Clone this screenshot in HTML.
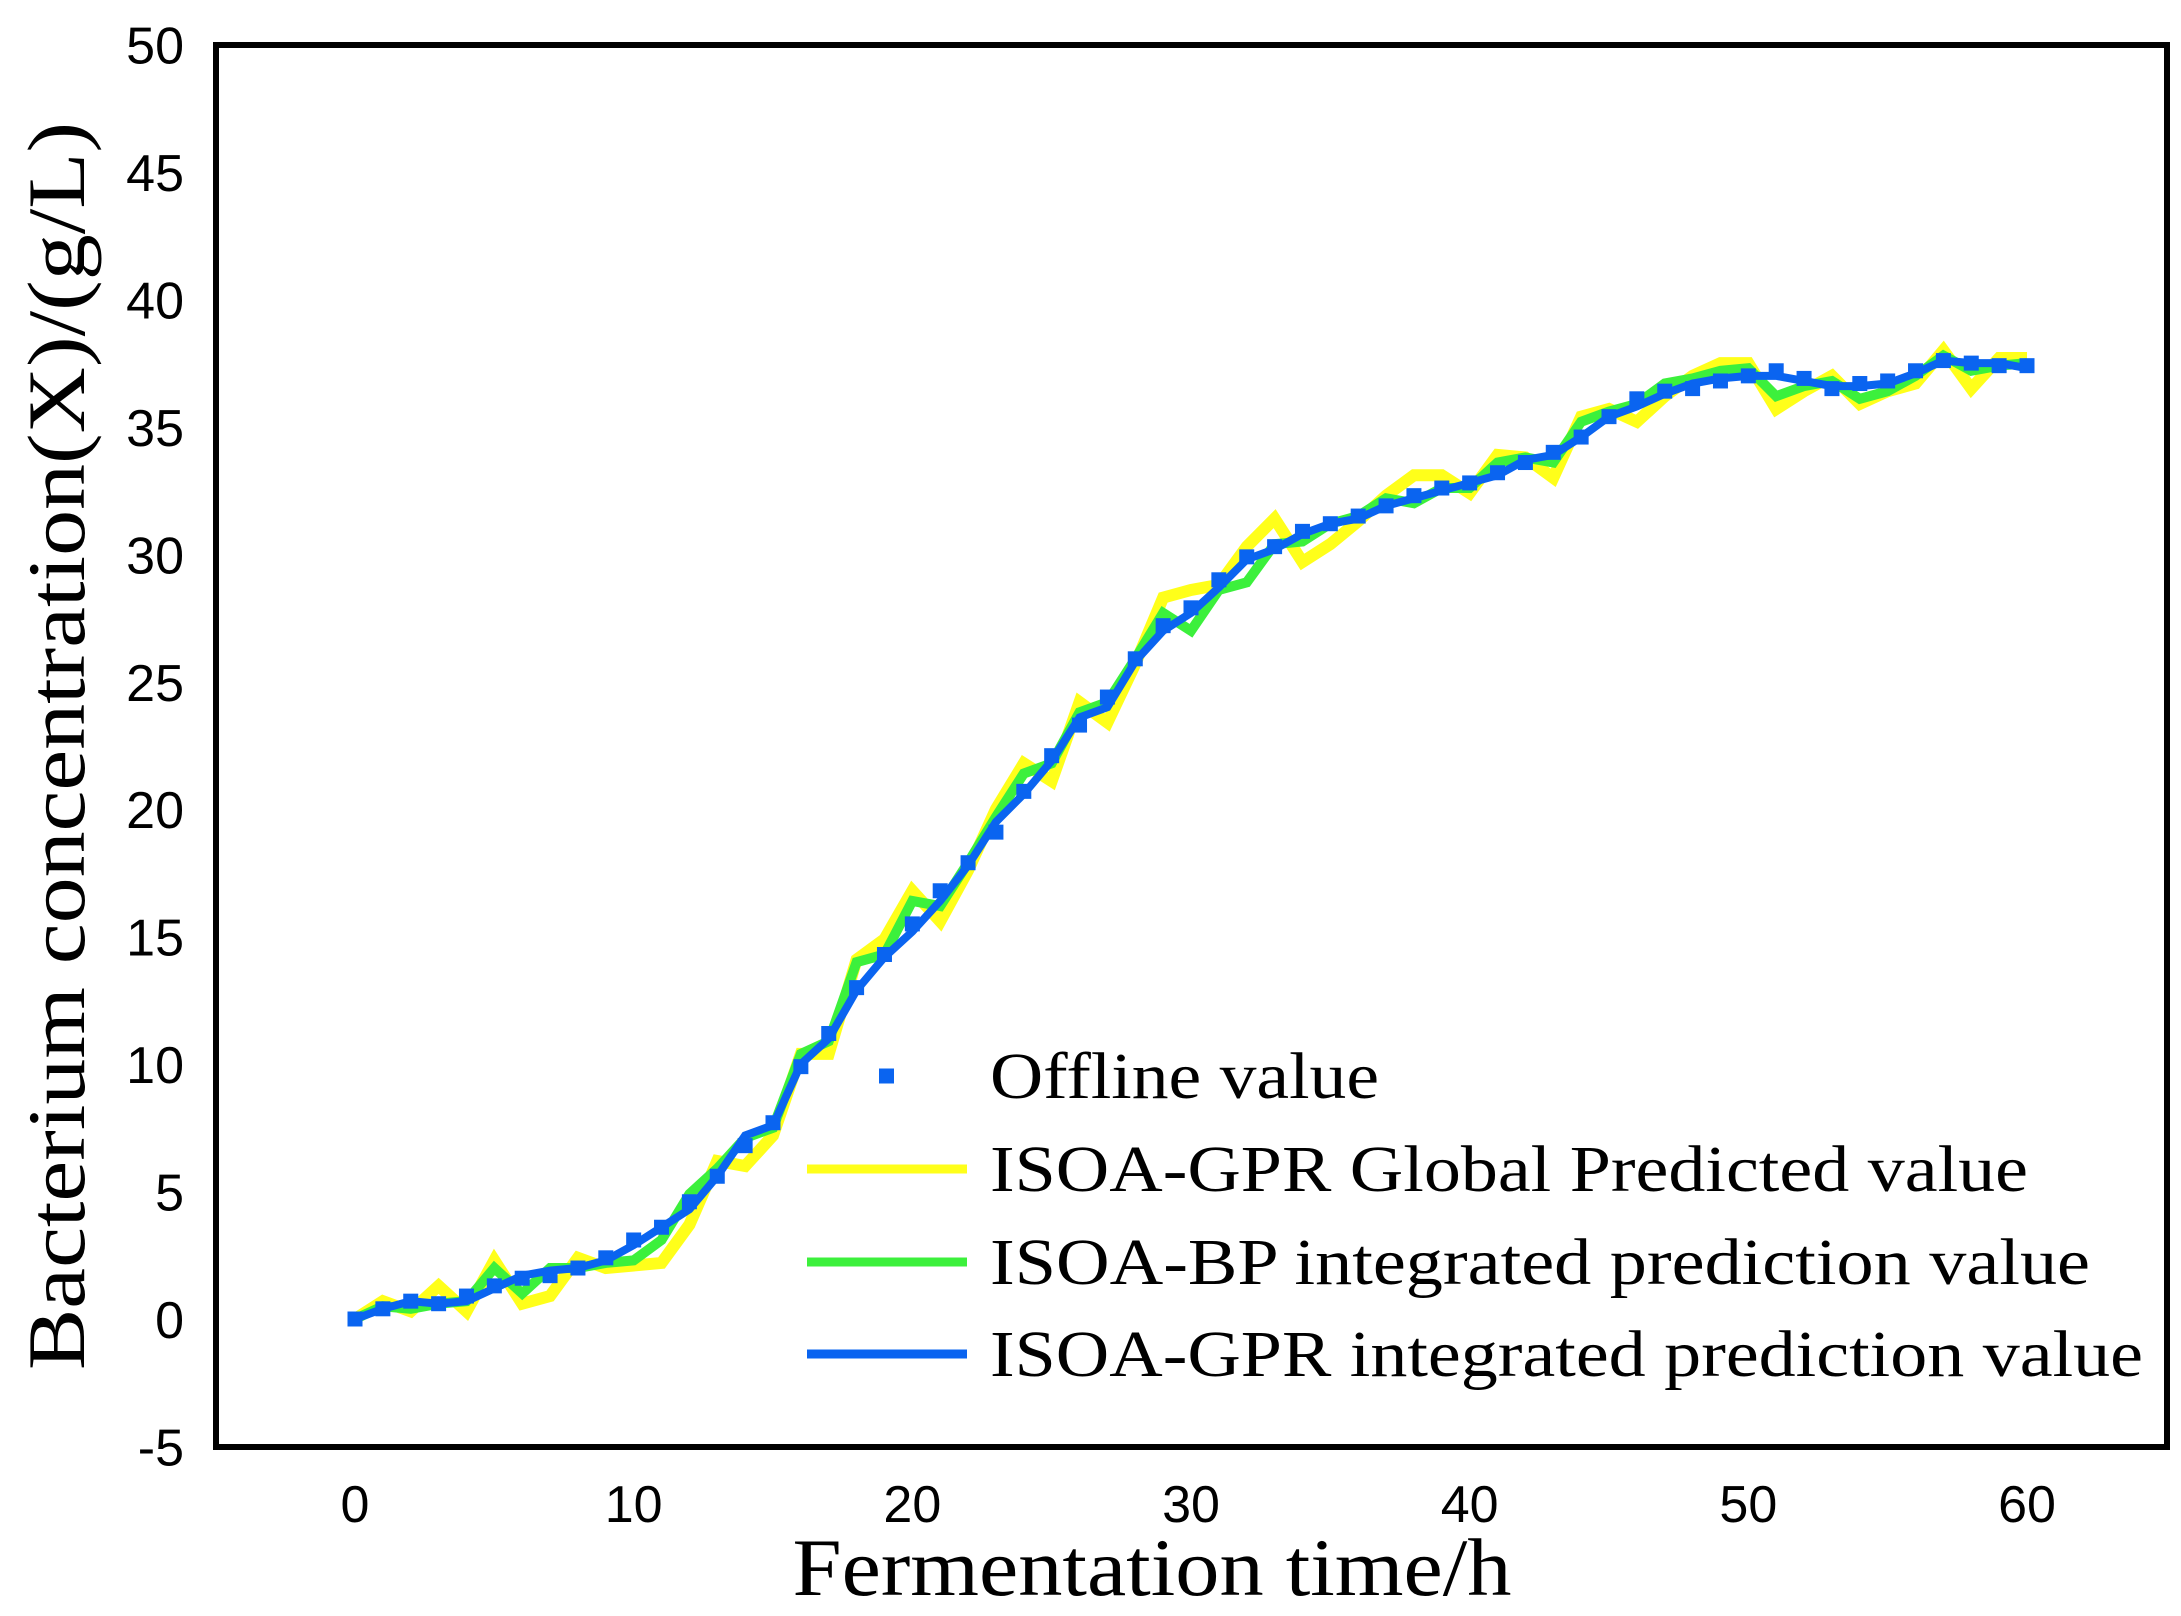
<!DOCTYPE html>
<html><head><meta charset="utf-8"><style>
html,body{margin:0;padding:0;background:#fff;}
svg{display:block;}
</style></head><body>
<svg id="chart" width="2181" height="1616" viewBox="0 0 2181 1616" xmlns="http://www.w3.org/2000/svg">
<rect x="0" y="0" width="2181" height="1616" fill="#fff"/>
<g id="marks"></g>
<rect x="216" y="45" width="1951" height="1402" fill="none" stroke="#000" stroke-width="6"/>
<g id="ticks" font-family="Liberation Sans, sans-serif" font-size="52" fill="#000"></g>
<text x="1152" y="1595" text-anchor="middle" font-family="Liberation Serif, serif" font-size="82" textLength="719" lengthAdjust="spacingAndGlyphs">Fermentation time/h</text>
<text transform="translate(84,746) rotate(-90)" text-anchor="middle" font-family="Liberation Serif, serif" font-size="82" textLength="1248" lengthAdjust="spacingAndGlyphs">Bacterium concentration(X)/(g/L)</text>
<g id="legend" font-family="Liberation Serif, serif" font-size="66" fill="#000"></g>
</svg>
<script>
const times = [];
for (let i = 0; i <= 60; i++) times.push(i);
const offline = [0,0.4,0.7,0.6,0.9,1.3,1.6,1.7,2.0,2.4,3.1,3.6,4.6,5.6,6.8,7.7,9.9,11.2,13,14.3,15.5,16.8,17.9,19.1,20.7,22.1,23.3,24.4,25.9,27.2,27.9,29,29.9,30.3,30.9,31.2,31.5,31.9,32.3,32.6,32.8,33.2,33.6,34,34.6,35.4,36.1,36.4,36.5,36.8,37,37.2,36.9,36.5,36.7,36.8,37.2,37.6,37.5,37.4,37.4];
const gprGlobal = [0,0.7,0.3,1.3,0.3,2.3,0.6,0.9,2.4,2.0,2.1,2.2,3.7,6.2,6.0,7.2,10.4,10.4,14.1,14.9,16.8,15.6,17.6,20,21.8,21.1,24.2,23.4,25.7,28.3,28.6,28.8,30.3,31.4,29.7,30.4,31.3,32.3,33.1,33.1,32.4,33.9,33.8,33.0,35.4,35.7,35.2,36.2,37.0,37.5,37.5,35.7,36.4,37.0,35.9,36.4,36.7,38.0,36.5,37.7,37.7];
const bpIntegrated = [0,0.5,0.4,0.6,0.7,2.0,1.0,2.0,2.0,2.2,2.3,3.1,4.9,5.9,7.1,7.5,10.4,10.9,14,14.3,16.4,16.2,17.9,19.7,21.4,21.8,23.8,24.2,25.9,27.7,27,28.6,28.9,30.4,30.5,31.2,31.5,32.2,32,32.6,32.6,33.6,33.8,33.6,35.2,35.6,35.9,36.7,36.9,37.2,37.3,36.2,36.6,36.8,36.1,36.4,37.0,37.8,37.2,37.4,37.5];
const gprIntegrated = [0,0.4,0.7,0.6,0.7,1.2,1.7,1.9,2.0,2.3,2.9,3.6,4.3,5.6,7.2,7.6,10.0,11.0,12.9,14.2,15.2,16.4,17.8,19.5,20.6,21.9,23.6,24.0,25.8,27.0,27.7,28.7,29.8,30.2,30.8,31.2,31.4,31.9,32.2,32.5,32.8,33.1,33.7,33.9,34.6,35.4,35.8,36.3,36.7,36.9,37.0,37.0,36.8,36.6,36.6,36.7,37.1,37.6,37.5,37.5,37.3];
const xTicks = [0,10,20,30,40,50,60];
const yTicks = [-5,0,5,10,15,20,25,30,35,40,45,50];

const NS = "http://www.w3.org/2000/svg";
function xs(v){ return 355 + (v/60)*(2027-355); }
function ys(v){ return 1319 - (v/50)*(1319-44.5); }

const marks = document.getElementById('marks');
function line(vals, color, w, name){
  const p = document.createElementNS(NS,'polyline');
  p.setAttribute('points', vals.map((v,i)=>xs(times[i])+','+ys(v)).join(' '));
  p.setAttribute('fill','none'); p.setAttribute('stroke',color);
  p.setAttribute('stroke-width',w); p.setAttribute('stroke-linejoin','miter');
  
  
  marks.appendChild(p);
}
line(gprGlobal,'#ffff1a',12,'isoa-gpr-global-line');
line(bpIntegrated,'#3cf03c',10,'isoa-bp-integrated-line');
line(gprIntegrated,'#0a64f0',8,'isoa-gpr-integrated-line');
offline.forEach((v,i)=>{
  const r = document.createElementNS(NS,'rect');
  r.setAttribute('x', xs(times[i])-7.5); r.setAttribute('y', ys(v)-7.5);
  r.setAttribute('width',15); r.setAttribute('height',15);
  r.setAttribute('fill','#0a64f0');
  
  
  marks.appendChild(r);
});

const ticks = document.getElementById('ticks');
xTicks.forEach(t=>{
  const e = document.createElementNS(NS,'text');
  e.setAttribute('x', xs(t)); e.setAttribute('y', 1522); e.setAttribute('text-anchor','middle');
  e.textContent = t;
  
  
  ticks.appendChild(e);
});
yTicks.forEach(t=>{
  const e = document.createElementNS(NS,'text');
  e.setAttribute('x', 184); e.setAttribute('y', ys(t)+19); e.setAttribute('text-anchor','end');
  e.textContent = t;
  
  
  ticks.appendChild(e);
});

const legend = document.getElementById('legend');
const legItems = [
  {label:'Offline value', color:'#0a64f0', type:'marker', y:1076, w:389, name:'legend-offline'},
  {label:'ISOA-GPR Global Predicted value', color:'#ffff1a', type:'line', y:1169, w:1038, name:'legend-isoa-gpr-global'},
  {label:'ISOA-BP integrated prediction value', color:'#3cf03c', type:'line', y:1262, w:1100, name:'legend-isoa-bp-integrated'},
  {label:'ISOA-GPR integrated prediction value', color:'#0a64f0', type:'line', y:1354, w:1153, name:'legend-isoa-gpr-integrated'}
];
legItems.forEach(it=>{
  const g = document.createElementNS(NS,'g');
  
  
  if (it.type==='marker'){
    const r = document.createElementNS(NS,'rect');
    r.setAttribute('x',879); r.setAttribute('y',it.y-7.5); r.setAttribute('width',15); r.setAttribute('height',15);
    r.setAttribute('fill',it.color);
    g.appendChild(r);
  } else {
    const l = document.createElementNS(NS,'line');
    l.setAttribute('x1',807); l.setAttribute('x2',967); l.setAttribute('y1',it.y); l.setAttribute('y2',it.y);
    l.setAttribute('stroke',it.color); l.setAttribute('stroke-width',9);
    g.appendChild(l);
  }
  const t = document.createElementNS(NS,'text');
  t.setAttribute('x',990); t.setAttribute('y',it.y+22);
  t.setAttribute('textLength', it.w);
  t.setAttribute('lengthAdjust','spacingAndGlyphs');
  t.textContent = it.label;
  g.appendChild(t);
  legend.appendChild(g);
});
</script>
</body></html>
